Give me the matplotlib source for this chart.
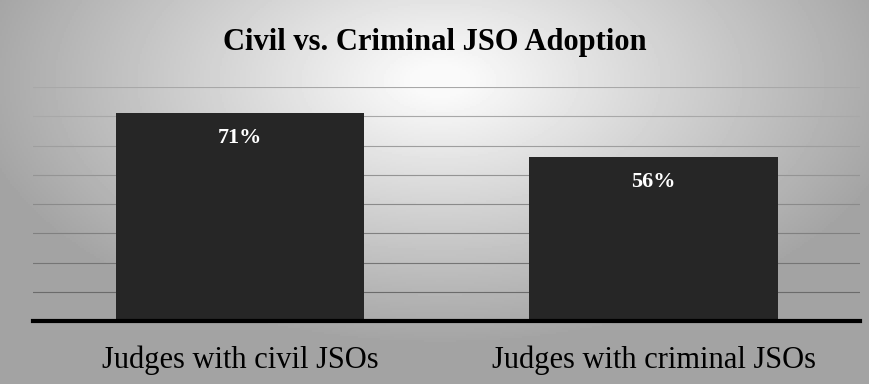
import numpy as np
import matplotlib
matplotlib.use("Agg")
import matplotlib.pyplot as plt

categories = ["Judges with civil JSOs", "Judges with criminal JSOs"]
values = [71, 56]
value_labels = ["71%", "56%"]
title = "Civil vs. Criminal JSO Adoption"

plt.rcParams['font.family'] = ['Liberation Serif', 'DejaVu Serif']

fig = plt.figure(figsize=(8.7, 3.84), dpi=100)

# radial grey background, light near the top centre
bg = fig.add_axes([0, 0, 1, 1], zorder=-10)
gx, gy = np.meshgrid(np.linspace(0, 870, 435), np.linspace(0, 384, 192))
r = np.sqrt(((gx - 440) / 500) ** 2 + ((gy - 80) / 280) ** 2)
shade = np.clip(1.0 - 0.38 * r, 0.64, 0.98)
bg.imshow(shade, cmap='gray', vmin=0, vmax=1, aspect='auto',
          extent=[0, 1, 0, 1], origin='upper')
bg.set_axis_off()

ax = fig.add_axes([0.038, 0.164, 0.951, 0.609])
ax.patch.set_visible(False)
x = np.arange(len(categories))
bars = ax.bar(x, values, width=0.6, color='#262626', zorder=3)

ax.set_xlim(-0.5, 1.5)
ax.set_ylim(0, 80)
ax.set_yticks(np.arange(10, 81, 10))
ax.yaxis.grid(True, color='#8f8f8f', lw=0.8, zorder=0)
# upper grid lines are a bit fainter
for i, gl in enumerate(ax.get_ygridlines()):
    gl.set_color(str(min(0.42 + 0.04 * i, 0.66)))
ax.tick_params(axis='y', left=False, labelleft=False)
ax.tick_params(axis='x', bottom=False, labelsize=22, pad=14)
ax.set_xticks(x)
ax.set_xticklabels(categories)
for s in ['top', 'right', 'left']:
    ax.spines[s].set_visible(False)
ax.spines['bottom'].set_linewidth(3)
ax.spines['bottom'].set_color('black')
ax.spines['bottom'].set_zorder(5)

for b, lab in zip(bars, value_labels):
    ax.text(b.get_x() + b.get_width() / 2, b.get_height() - 10, lab,
            ha='center', va='baseline', color='white', fontsize=16,
            fontweight='bold', zorder=4)

fig.text(0.5, 0.870, title, ha='center', va='baseline', fontsize=22,
         fontweight='bold', color='black')

fig.savefig('out.png', dpi=100)
